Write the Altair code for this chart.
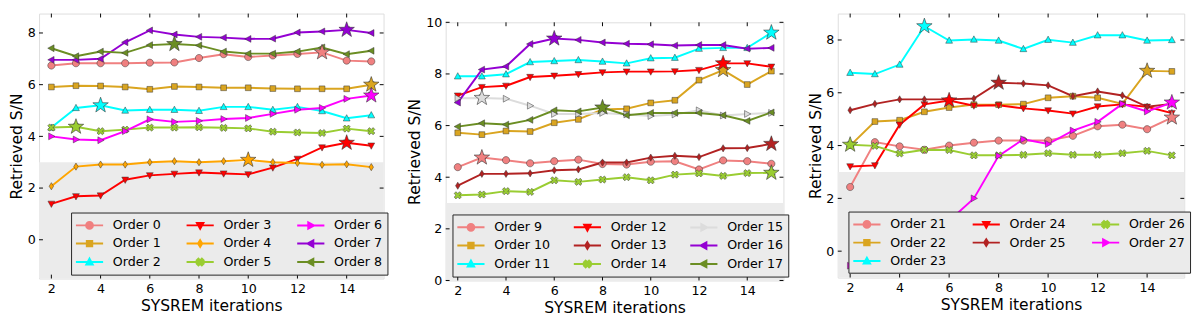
import math
import altair as alt
import pandas as pd

ITERS = list(range(2, 16))
XTICKS = [2, 4, 6, 8, 10, 12, 14]
THRESHOLD = [3]

# ---------------- Panel 1 ----------------
P1_ORDERS = [0, 1, 2, 3, 4, 5, 6, 7, 8]
P1_VALUES = [
    [6.74, 6.83, 6.83, 6.83, 6.85, 6.86, 7.03, 7.18, 7.07, 7.13, 7.19, 7.25, 6.93, 6.90],
    [5.91, 5.96, 5.95, 5.91, 5.82, 5.93, 5.91, 5.88, 5.88, 5.85, 5.84, 5.84, 5.84, 6.00],
    [4.34, 5.10, 5.20, 5.00, 5.03, 5.03, 4.99, 5.14, 5.14, 5.03, 5.14, 4.98, 4.70, 4.82],
    [1.39, 1.68, 1.71, 2.32, 2.49, 2.55, 2.60, 2.56, 2.53, 2.79, 3.13, 3.57, 3.75, 3.64],
    [2.07, 2.83, 2.91, 2.91, 3.00, 3.04, 3.00, 3.04, 3.09, 3.00, 2.97, 2.90, 2.92, 2.81],
    [4.34, 4.37, 4.20, 4.26, 4.34, 4.34, 4.35, 4.33, 4.31, 4.18, 4.15, 4.13, 4.30, 4.20],
    [4.00, 3.88, 3.85, 4.20, 4.66, 4.56, 4.60, 4.67, 4.71, 4.87, 5.03, 5.10, 5.45, 5.58],
    [6.96, 6.96, 7.00, 7.64, 8.10, 7.94, 7.85, 7.82, 7.77, 7.78, 8.02, 8.06, 8.12, 8.00],
    [7.41, 7.10, 7.28, 7.23, 7.53, 7.57, 7.52, 7.28, 7.20, 7.20, 7.28, 7.44, 7.18, 7.31],
]
P1_STARS = [13, 15, 4, 14, 10, 3, 15, 14, 7]
P1_COLORS = ["#F08080", "#DAA520", "#00FFFF", "#FF0000", "#FFA500",
             "#9ACD32", "#FF00FF", "#9400D3", "#6B8E23"]
P1_MARKERS = ["o", "s", "^", "v", "d", "X", ">", "<", "<"]
P1_LEGEND_ORDER = [0, 3, 6, 1, 4, 7, 2, 5, 8]
P1_YDOMAIN = [-1.5, 8.75]
P1_YTICKS = [0, 2, 4, 6, 8]

# ---------------- Panel 2 ----------------
P2_ORDERS = [9, 10, 11, 12, 13, 14, 15, 16, 17]
P2_VALUES = [
    [4.39, 4.76, 4.66, 4.54, 4.62, 4.68, 4.51, 4.49, 4.60, 4.62, 4.30, 4.65, 4.62, 4.52],
    [5.72, 5.65, 5.79, 5.77, 6.11, 6.24, 6.62, 6.65, 6.88, 6.98, 7.76, 8.15, 7.59, 8.11],
    [7.91, 7.91, 7.99, 8.46, 8.50, 8.54, 8.48, 8.41, 8.61, 8.63, 8.98, 9.01, 9.01, 9.60],
    [7.16, 7.49, 7.54, 7.88, 7.93, 7.99, 8.06, 8.09, 8.09, 8.10, 8.15, 8.41, 8.41, 8.28],
    [3.67, 4.13, 4.13, 4.15, 4.27, 4.30, 4.57, 4.57, 4.76, 4.83, 4.78, 5.12, 5.13, 5.29],
    [3.30, 3.33, 3.46, 3.43, 3.88, 3.82, 3.91, 4.00, 3.88, 4.10, 4.15, 4.05, 4.16, 4.17],
    [7.06, 7.07, 7.04, 6.77, 6.45, 6.45, 6.49, 6.43, 6.37, 6.43, 6.59, 6.39, 6.45, 6.49],
    [6.89, 8.17, 8.29, 9.16, 9.37, 9.32, 9.22, 9.17, 9.15, 9.10, 9.12, 9.12, 8.98, 9.01],
    [5.96, 6.09, 6.04, 6.22, 6.59, 6.55, 6.70, 6.40, 6.49, 6.49, 6.49, 6.40, 6.18, 6.51],
]
P2_STARS = [3, 13, 15, 13, 15, 15, 3, 6, 8]
P2_COLORS = ["#F08080", "#DAA520", "#00FFFF", "#FF0000", "#B22222",
             "#9ACD32", "#DCDCDC", "#9400D3", "#6B8E23"]
P2_MARKERS = ["o", "s", "^", "v", "d", "X", ">", "<", "<"]
P2_LEGEND_ORDER = [9, 12, 15, 10, 13, 16, 11, 14, 17]
P2_YDOMAIN = [0, 10]
P2_YTICKS = [0, 2, 4, 6, 8, 10]

# ---------------- Panel 3 ----------------
P3_ORDERS = [21, 22, 23, 24, 25, 26, 27]
P3_VALUES = [
    [2.43, 4.13, 3.97, 3.84, 4.00, 4.11, 4.19, 4.19, 4.19, 4.37, 4.73, 4.79, 4.62, 5.06],
    [4.00, 4.91, 4.96, 5.28, 5.44, 5.55, 5.55, 5.57, 5.81, 5.87, 5.81, 5.58, 6.83, 6.81],
    [6.76, 6.71, 7.07, 8.52, 7.98, 8.02, 7.98, 7.66, 8.01, 7.90, 8.18, 8.18, 7.98, 8.00],
    [3.21, 3.25, 4.79, 5.56, 5.71, 5.51, 5.53, 5.41, 5.33, 5.21, 5.48, 5.56, 5.47, 5.23],
    [5.34, 5.58, 5.75, 5.75, 5.75, 5.78, 6.38, 6.35, 6.28, 5.87, 6.05, 5.90, 5.47, 5.58],
    [4.03, 3.99, 3.70, 3.84, 3.83, 3.63, 3.63, 3.65, 3.71, 3.65, 3.65, 3.71, 3.80, 3.63],
    [-0.55, -0.25, 0.15, 0.60, 1.15, 2.00, 3.61, 4.24, 4.06, 4.57, 4.90, 5.58, 5.29, 5.63],
]
P3_STARS = [15, 14, 5, 6, 8, 2, 15]
P3_COLORS = ["#F08080", "#DAA520", "#00FFFF", "#FF0000", "#B22222", "#9ACD32", "#FF00FF"]
P3_MARKERS = ["o", "s", "^", "v", "d", "X", ">"]
P3_LEGEND_ORDER = [21, 24, 26, 22, 25, 27, 23]
P3_YDOMAIN = [-1, 9]
P3_YTICKS = [0, 2, 4, 6, 8]

BAND = "#ebebeb"
EDGE = "#333333"
FONT = "DejaVu Sans"

# ---------------- marker paths ----------------
UNIT_POLYS = {
    "s": [(-0.8, -0.8), (0.8, -0.8), (0.8, 0.8), (-0.8, 0.8)],
    "^": [(0, -1), (0.95, 0.75), (-0.95, 0.75)],
    "v": [(0, 1), (0.95, -0.75), (-0.95, -0.75)],
    "d": [(0, -1), (0.62, 0), (0, 1), (-0.62, 0)],
    "X": [(-0.5, -1), (0, -0.5), (0.5, -1), (1, -0.5), (0.5, 0), (1, 0.5),
          (0.5, 1), (0, 0.5), (-0.5, 1), (-1, 0.5), (-0.5, 0), (-1, -0.5)],
    ">": [(1, 0), (-0.75, -0.95), (-0.75, 0.95)],
    "<": [(-1, 0), (0.75, -0.95), (0.75, 0.95)],
}


def marker_path(m, s=1.0, cx=0.0):
    if m == "o":
        r = s
        return (f"M{cx + r:.3f},0A{r:.3f},{r:.3f} 0 1,1 {cx - r:.3f},0"
                f"A{r:.3f},{r:.3f} 0 1,1 {cx + r:.3f},0Z")
    pts = UNIT_POLYS[m]
    return "M" + "L".join(f"{cx + x * s:.3f},{y * s:.3f}" for x, y in pts) + "Z"


def legend_path(m):
    # symbol size 196 -> 7 px per unit; line 28 px long, marker at its middle
    return "M-1.143,0H2.857" + marker_path(m, 0.5, 0.857)


def star_path():
    pts = []
    for k in range(10):
        ang = math.radians(-90 + 36 * k)
        rad = 1.0 if k % 2 == 0 else 0.4
        pts.append((rad * math.cos(ang), rad * math.sin(ang)))
    return "M" + "L".join(f"{x:.3f},{y:.3f}" for x, y in pts) + "Z"


STAR = star_path()


def panel(orders, values, stars, colors, markers, legend_order, ydomain, yticks,
          W, H, legend_x, col_pad):
    labels = [f"Order {o}" for o in orders]
    rows = []
    for lab, vals in zip(labels, values):
        for it, v in zip(ITERS, vals):
            rows.append({"iter": it, "sn": v, "label": lab})
    df = pd.DataFrame(rows)
    srows = []
    for lab, vals, s in zip(labels, values, stars):
        srows.append({"iter": s, "sn": vals[ITERS.index(s)], "label": lab})
    sdf = pd.DataFrame(srows)

    idx = [orders.index(o) for o in legend_order]
    dom = [labels[i] for i in idx]
    crange = [colors[i] for i in idx]
    srange = [marker_path(markers[i]) for i in idx]
    lrange = [legend_path(markers[i]) for i in idx]
    ldf = pd.concat([df[df["label"] == d] for d in dom], ignore_index=True)

    xs = alt.Scale(domain=[1.5, 15.5], nice=False, zero=False)
    ys = alt.Scale(domain=ydomain, nice=False, zero=False)
    X = alt.X("iter:Q", scale=xs,
              axis=alt.Axis(values=XTICKS, title="SYSREM iterations", titlePadding=3))
    Y = alt.Y("sn:Q", scale=ys,
              axis=alt.Axis(values=yticks, title="Retrieved S/N", titlePadding=3))
    cscale = alt.Scale(domain=dom, range=crange)

    band_df = pd.DataFrame({"sn": THRESHOLD})
    band = alt.Chart(band_df).mark_rect(color=BAND).encode(
        x=alt.value(0), x2=alt.value(W), y=Y, y2=alt.value(H))

    lines = alt.Chart(df).mark_line(strokeWidth=2).encode(
        x=X, y=Y, color=alt.Color("label:N", scale=cscale, legend=None))
    points = alt.Chart(df).mark_point(filled=True, size=55, stroke=EDGE,
                                      strokeWidth=0.5, opacity=1).encode(
        x=X, y=Y, color=alt.Color("label:N", scale=cscale, legend=None),
        shape=alt.Shape("label:N", scale=alt.Scale(domain=dom, range=srange), legend=None))
    star_layer = alt.Chart(sdf).mark_point(filled=True, shape=STAR, size=280, stroke=EDGE,
                                           strokeWidth=0.6, opacity=1).encode(
        x=X, y=Y, color=alt.Color("label:N", scale=cscale, legend=None))

    xt = pd.DataFrame({"iter": XTICKS})
    yt = pd.DataFrame({"sn": yticks})
    tb = alt.Chart(xt).mark_rule(color="black").encode(x=X, y=alt.value(H), y2=alt.value(H - 4))
    tt = alt.Chart(xt).mark_rule(color="black").encode(x=X, y=alt.value(0), y2=alt.value(4))
    tl = alt.Chart(yt).mark_rule(color="black").encode(y=Y, x=alt.value(0), x2=alt.value(4))
    tr = alt.Chart(yt).mark_rule(color="black").encode(y=Y, x=alt.value(W - 4), x2=alt.value(W))

    main = alt.layer(band, lines, points, star_layer, tb, tt, tl, tr)

    LEG = alt.Legend(title=None, orient="none", legendX=legend_x, legendY=H - 6 - 62,
                     direction="horizontal", columns=3,
                     symbolSize=196, symbolStrokeWidth=2, symbolOpacity=1,
                     labelFont=FONT, labelFontSize=13, labelColor="black", labelOffset=22,
                     rowPadding=3, columnPadding=col_pad, padding=5, fillColor=BAND,
                     strokeColor="#222222", labelLimit=0)
    cscale2 = alt.Scale(domain=dom, range=crange)
    leg_layer = alt.Chart(ldf).mark_point(filled=True, opacity=0, size=196, strokeWidth=2).encode(
        x=X, y=Y,
        color=alt.Color("label:N", scale=cscale2, legend=LEG),
        stroke=alt.Stroke("label:N", scale=cscale2, legend=LEG),
        shape=alt.Shape("label:N", scale=alt.Scale(domain=dom, range=lrange), legend=LEG))

    return alt.layer(main, leg_layer).resolve_scale(
        color="independent", shape="independent", stroke="independent"
    ).properties(width=W, height=H)


p1 = panel(P1_ORDERS, P1_VALUES, P1_STARS, P1_COLORS, P1_MARKERS, P1_LEGEND_ORDER,
           P1_YDOMAIN, P1_YTICKS, 355, 273, 33, 21)
p2 = panel(P2_ORDERS, P2_VALUES, P2_STARS, P2_COLORS, P2_MARKERS, P2_LEGEND_ORDER,
           P2_YDOMAIN, P2_YTICKS, 348, 266, 7, 19)
p3 = panel(P3_ORDERS, P3_VALUES, P3_STARS, P3_COLORS, P3_MARKERS, P3_LEGEND_ORDER,
           P3_YDOMAIN, P3_YTICKS, 357, 272, 11, 22)

# tiny invisible spacer that lets the middle panel sit a little lower
spacer = alt.Chart(pd.DataFrame({"iter": [2]})).mark_point(opacity=0, size=0).encode(
    x=alt.value(0), y=alt.value(0)
).properties(width=1, height=1, view=alt.ViewBackground(stroke="transparent"))
p2col = alt.vconcat(spacer, p2, spacing=0).resolve_scale(
    color="independent", shape="independent", stroke="independent")

chart = alt.hconcat(p1, p2col, p3, spacing=15).resolve_scale(
    color="independent", shape="independent", stroke="independent"
).properties(padding=0).configure_view(
    stroke="black", strokeWidth=1
).configure(font=FONT).configure_axis(
    labelFont=FONT, labelFontSize=13, labelColor="black", titleFont=FONT,
    titleFontSize=16, titleFontWeight="normal", titleColor="black",
    ticks=False, domain=False, grid=False, labelPadding=4
)

chart.save("out.html", embed_options={"renderer": "svg", "actions": False})
